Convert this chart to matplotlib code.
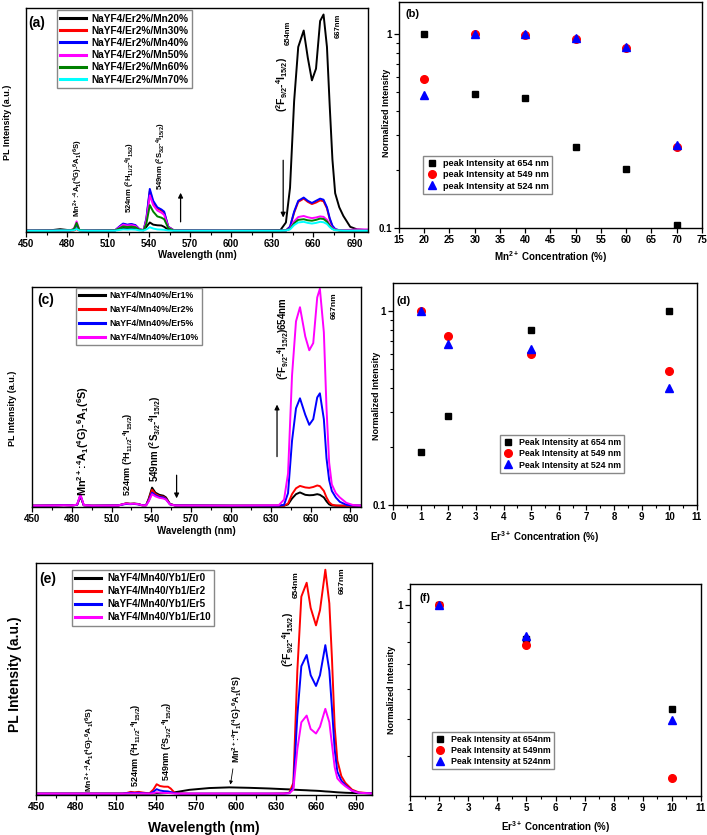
import numpy as np
import matplotlib
matplotlib.use("Agg")
import matplotlib.pyplot as plt
from matplotlib.ticker import FixedLocator, FuncFormatter, NullFormatter, MultipleLocator, NullLocator

plt.rcParams['font.family'] = ['Liberation Sans', 'DejaVu Sans']
plt.rcParams['font.weight'] = 'bold'
plt.rcParams['mathtext.fontset'] = 'custom'
plt.rcParams['mathtext.rm'] = 'Liberation Sans:bold'
plt.rcParams['mathtext.it'] = 'Liberation Sans:bold'
plt.rcParams['mathtext.bf'] = 'Liberation Sans:bold'
plt.rcParams['mathtext.default'] = 'rm'

# ---------------- Panel (a) data ----------------
wl_a = [450, 468, 475, 482, 485, 487, 489, 495, 515, 518, 521, 524, 527, 530, 533, 536, 538, 540.5, 543, 546,
        549, 551, 554, 558, 600, 636, 640, 643, 646, 649, 653, 656, 659, 662, 665, 667.5, 670, 672, 674, 676,
        679, 682, 687, 692, 700]
a_mn20 = [0.003, 0.004, 0.009, 0.004, 0.005, 0.012, 0.004, 0.003, 0.004, 0.010, 0.014, 0.013, 0.014, 0.012, 0.005, 0.004,
          0.020, 0.040, 0.030, 0.027, 0.026, 0.020, 0.006, 0.003, 0.003, 0.005, 0.040, 0.200, 0.600, 0.850, 0.926, 0.800,
          0.696, 0.750, 0.970, 1.000, 0.850, 0.580, 0.330, 0.175, 0.110, 0.070, 0.020, 0.008, 0.004]
a_mn30 = [0.002, 0.002, 0.003, 0.002, 0.003, 0.010, 0.003, 0.002, 0.003, 0.018, 0.033, 0.028, 0.031, 0.026, 0.008, 0.005,
          0.055, 0.185, 0.130, 0.105, 0.095, 0.085, 0.020, 0.004, 0.002, 0.002, 0.003, 0.020, 0.085, 0.135, 0.150, 0.135,
          0.125, 0.132, 0.142, 0.138, 0.105, 0.055, 0.022, 0.008, 0.003, 0.002, 0.002, 0.002, 0.002]
a_mn40 = [0.002, 0.002, 0.003, 0.003, 0.008, 0.030, 0.005, 0.002, 0.003, 0.020, 0.035, 0.030, 0.033, 0.028, 0.008, 0.005,
          0.060, 0.195, 0.140, 0.110, 0.100, 0.090, 0.020, 0.004, 0.002, 0.002, 0.003, 0.020, 0.090, 0.140, 0.155, 0.140,
          0.130, 0.140, 0.150, 0.145, 0.110, 0.060, 0.025, 0.010, 0.004, 0.002, 0.002, 0.002, 0.002]
a_mn50 = [0.002, 0.002, 0.003, 0.003, 0.010, 0.045, 0.006, 0.002, 0.003, 0.017, 0.030, 0.026, 0.028, 0.024, 0.007, 0.005,
          0.050, 0.165, 0.120, 0.095, 0.085, 0.075, 0.018, 0.004, 0.002, 0.002, 0.003, 0.012, 0.045, 0.065, 0.070, 0.064,
          0.060, 0.063, 0.068, 0.066, 0.052, 0.030, 0.014, 0.007, 0.005, 0.005, 0.006, 0.008, 0.008]
a_mn60 = [0.002, 0.002, 0.003, 0.003, 0.009, 0.038, 0.005, 0.002, 0.003, 0.012, 0.022, 0.019, 0.021, 0.018, 0.006, 0.004,
          0.035, 0.120, 0.090, 0.068, 0.062, 0.055, 0.014, 0.003, 0.002, 0.002, 0.003, 0.010, 0.036, 0.052, 0.055, 0.050,
          0.048, 0.052, 0.058, 0.056, 0.044, 0.025, 0.011, 0.005, 0.003, 0.002, 0.002, 0.002, 0.002]
a_mn70 = [0.002, 0.002, 0.003, 0.003, 0.004, 0.010, 0.003, 0.002, 0.002, 0.005, 0.008, 0.007, 0.008, 0.007, 0.003, 0.003,
          0.008, 0.018, 0.012, 0.008, 0.007, 0.006, 0.003, 0.002, 0.002, 0.002, 0.003, 0.008, 0.028, 0.040, 0.043, 0.038,
          0.035, 0.038, 0.043, 0.041, 0.033, 0.019, 0.009, 0.004, 0.003, 0.002, 0.002, 0.002, 0.002]
labels_a = ['NaYF4/Er2%/Mn20%', 'NaYF4/Er2%/Mn30%', 'NaYF4/Er2%/Mn40%',
            'NaYF4/Er2%/Mn50%', 'NaYF4/Er2%/Mn60%', 'NaYF4/Er2%/Mn70%']
colors_a = ['black', 'red', 'blue', 'magenta', 'green', 'cyan']

# ---------------- Panel (b) data ----------------
b_conc = [20, 30, 40, 50, 60, 70]
b_654 = [1.0, 0.489, 0.47, 0.262, 0.201, 0.104]
b_549 = [0.588, 1.0, 0.99, 0.94, 0.85, 0.262]
b_524 = [0.485, 1.0, 1.0, 0.95, 0.86, 0.267]
labels_b = ['peak Intensity at 654 nm', 'peak Intensity at 549 nm', 'peak Intensity at 524 nm']

# ---------------- Panel (c) data ----------------
wl_c = [450, 468, 474, 480, 484, 486.5, 489, 495, 515, 518, 521, 524, 527, 530, 533, 536, 538, 540.5, 543, 546,
        549, 551, 554, 558, 600, 636, 640, 643, 646, 649, 652, 656, 659, 662, 665, 667, 670, 672, 674, 676,
        679, 682, 687, 692, 698]
c_er1 = [0.002, 0.003, 0.005, 0.003, 0.006, 0.045, 0.004, 0.002, 0.003, 0.008, 0.013, 0.011, 0.012, 0.010, 0.004, 0.004,
         0.035, 0.085, 0.062, 0.052, 0.048, 0.040, 0.010, 0.003, 0.002, 0.002, 0.002, 0.008, 0.035, 0.055, 0.063, 0.052,
         0.050, 0.051, 0.055, 0.052, 0.040, 0.022, 0.008, 0.003, 0.002, 0.002, 0.002, 0.002, 0.002]
c_er2 = [0.002, 0.003, 0.004, 0.003, 0.006, 0.048, 0.004, 0.002, 0.003, 0.008, 0.012, 0.010, 0.011, 0.009, 0.004, 0.004,
         0.030, 0.075, 0.056, 0.046, 0.043, 0.035, 0.009, 0.003, 0.002, 0.002, 0.002, 0.012, 0.055, 0.082, 0.093, 0.086,
         0.084, 0.088, 0.095, 0.092, 0.070, 0.040, 0.018, 0.007, 0.003, 0.002, 0.002, 0.002, 0.002]
c_er5 = [0.002, 0.003, 0.004, 0.003, 0.006, 0.050, 0.004, 0.002, 0.003, 0.007, 0.010, 0.009, 0.010, 0.008, 0.004, 0.004,
         0.025, 0.062, 0.050, 0.042, 0.040, 0.032, 0.008, 0.003, 0.002, 0.002, 0.006, 0.060, 0.300, 0.450, 0.496, 0.420,
         0.374, 0.400, 0.500, 0.519, 0.400, 0.220, 0.120, 0.070, 0.040, 0.020, 0.006, 0.003, 0.002]
c_er10 = [0.002, 0.003, 0.004, 0.003, 0.007, 0.055, 0.005, 0.002, 0.003, 0.008, 0.012, 0.010, 0.011, 0.009, 0.004, 0.004,
          0.022, 0.055, 0.045, 0.038, 0.035, 0.030, 0.008, 0.003, 0.002, 0.004, 0.030, 0.150, 0.600, 0.850, 0.915, 0.780,
          0.717, 0.750, 0.960, 1.000, 0.800, 0.450, 0.200, 0.100, 0.060, 0.040, 0.015, 0.005, 0.002]
labels_c = ['NaYF4/Mn40%/Er1%', 'NaYF4/Mn40%/Er2%', 'NaYF4/Mn40%/Er5%', 'NaYF4/Mn40%/Er10%']
colors_c = ['black', 'red', 'blue', 'magenta']

# ---------------- Panel (d) data ----------------
d_conc = [1, 2, 5, 10]
d_654 = [0.187, 0.288, 0.80, 1.0]
d_549 = [1.0, 0.743, 0.60, 0.487]
d_524 = [1.0, 0.673, 0.635, 0.40]
labels_d = ['Peak Intensity at 654 nm', 'Peak Intensity at 549 nm', 'Peak Intensity at 524 nm']

# ---------------- Panel (e) data ----------------
wl_e = [450, 500, 515, 518, 521, 524, 527, 530, 535, 538, 540.5, 543, 546, 549, 551, 554, 558, 565, 580, 595,
        610, 625, 636, 640, 643, 646, 649, 653, 656, 660, 663, 667, 670, 672, 674, 676, 679, 682, 687, 692, 702]
e_er0 = [0.002, 0.002, 0.002, 0.002, 0.002, 0.002, 0.002, 0.002, 0.002, 0.002, 0.003, 0.003, 0.004, 0.005, 0.006, 0.008,
         0.012, 0.019, 0.027, 0.030, 0.028, 0.025, 0.022, 0.021, 0.020, 0.019, 0.018, 0.017, 0.016, 0.015, 0.014, 0.012,
         0.011, 0.010, 0.009, 0.008, 0.007, 0.006, 0.005, 0.004, 0.003]
e_er2 = [0.002, 0.002, 0.002, 0.005, 0.010, 0.008, 0.010, 0.007, 0.003, 0.020, 0.044, 0.036, 0.033, 0.033, 0.025, 0.006,
         0.003, 0.002, 0.002, 0.002, 0.002, 0.002, 0.003, 0.006, 0.050, 0.550, 0.880, 0.942, 0.830, 0.752, 0.820, 1.000,
         0.850, 0.600, 0.300, 0.150, 0.080, 0.050, 0.020, 0.008, 0.003]
e_er5 = [0.002, 0.002, 0.002, 0.004, 0.006, 0.005, 0.006, 0.004, 0.002, 0.010, 0.022, 0.016, 0.013, 0.012, 0.009, 0.004,
         0.002, 0.002, 0.002, 0.002, 0.002, 0.002, 0.002, 0.004, 0.030, 0.350, 0.570, 0.620, 0.530, 0.482, 0.530, 0.664,
         0.550, 0.380, 0.200, 0.100, 0.060, 0.040, 0.015, 0.006, 0.003]
e_er10 = [0.002, 0.002, 0.002, 0.003, 0.003, 0.003, 0.003, 0.003, 0.002, 0.004, 0.008, 0.006, 0.005, 0.005, 0.004, 0.002,
          0.002, 0.002, 0.002, 0.002, 0.002, 0.002, 0.002, 0.004, 0.020, 0.200, 0.320, 0.350, 0.290, 0.270, 0.300, 0.380,
          0.320, 0.220, 0.120, 0.070, 0.050, 0.035, 0.015, 0.006, 0.003]
labels_e = ['NaYF4/Mn40/Yb1/Er0', 'NaYF4/Mn40/Yb1/Er2', 'NaYF4/Mn40/Yb1/Er5', 'NaYF4/Mn40/Yb1/Er10']
colors_e = ['black', 'red', 'blue', 'magenta']

# ---------------- Panel (f) data ----------------
f_conc = [2, 5, 10]
f_654 = [1.0, 0.816, 0.532]
f_549 = [1.0, 0.784, 0.35]
f_524 = [1.0, 0.828, 0.496]
labels_f = ['Peak Intensity at 654nm', 'Peak Intensity at 549nm', 'Peak Intensity at 524nm']

W, H = 707, 835
fig = plt.figure(figsize=(W / 100, H / 100), dpi=100)


def add_ax(l, r, t, b):
    return fig.add_axes([l / W, 1 - b / H, (r - l) / W, (b - t) / H])


def style(ax, tick_fs=7):
    for s in ax.spines.values():
        s.set_linewidth(1.0)
    ax.tick_params(axis='both', which='major', direction='out', length=3.5, width=0.9,
                   labelsize=tick_fs, pad=1.5, top=False, right=False)
    ax.tick_params(axis='both', which='minor', direction='out', length=2, width=0.8,
                   top=False, right=False)
    for lab in ax.get_xticklabels() + ax.get_yticklabels():
        lab.set_fontweight('bold')


def spectrum_axes(ax, xmax, tick_fs=7):
    ax.set_xlim(450, xmax)
    ax.xaxis.set_major_locator(MultipleLocator(30))
    ax.xaxis.set_minor_locator(MultipleLocator(15))
    ax.yaxis.set_major_locator(NullLocator())
    ax.yaxis.set_minor_locator(NullLocator())
    style(ax, tick_fs)


def rot(ax, x, y, s, fs):
    ax.text(x, y, s, rotation=90, ha='center', va='bottom', fontsize=fs, fontweight='bold')


def arrow(ax, x, y0, y1):
    ax.annotate('', xy=(x, y1), xytext=(x, y0),
                arrowprops=dict(arrowstyle='-|>', color='black', lw=0.9, mutation_scale=7))


def set_labels(ax, xl, xfs, xy, yl, yfs, yx, yy):
    ax.set_xlabel(xl, fontsize=xfs, fontweight='bold')
    ax.xaxis.set_label_coords(0.5, xy)
    ax.xaxis.label.set_va('center')
    ax.set_ylabel(yl, fontsize=yfs, fontweight='bold')
    ax.yaxis.set_label_coords(yx, yy)
    ax.yaxis.label.set_va('center')


def line_legend(ax, anchor, fs, spacing, hl):
    ax.legend(loc='upper left', bbox_to_anchor=anchor, borderaxespad=0,
              handlelength=hl, handletextpad=0.6, labelspacing=spacing, borderpad=0.35,
              fancybox=False, edgecolor='#888888', framealpha=1, prop={'weight': 'bold', 'size': fs})
    for l in ax.get_legend().get_lines():
        l.set_linewidth(2.2)


mn_a1 = r'Mn$^{2+}$:$^{4}$A$_{1}$($^{4}$G)-$^{6}$A$_{1}$($^{6}$S)'
t524 = r'524nm ($^{2}$H$_{11/2}$-$^{4}$I$_{15/2}$)'
t549 = r'549nm ($^{2}$S$_{3/2}$-$^{4}$I$_{15/2}$)'
tF = r'($^{2}$F$_{9/2}$-$^{4}$I$_{15/2}$)'

# ======== (a) ========
ax = add_ax(26, 368, 8, 232)
for ys, c, lab in zip([a_mn20, a_mn30, a_mn40, a_mn50, a_mn60, a_mn70], colors_a, labels_a):
    ax.plot(wl_a, ys, color=c, lw=1.4, label=lab)
ax.set_ylim(-0.004, 1.03)
spectrum_axes(ax, 700)
set_labels(ax, 'Wavelength (nm)', 7, -0.102, 'PL Intensity (a.u.)', 6.5, -0.055, 0.49)
line_legend(ax, (0.09, 0.991), 7.3, 0.22, 2.5)
ax.text(0.006, 0.935, '(a)', transform=ax.transAxes, fontsize=10, fontweight='bold', va='center', ha='left')
rot(ax, 488, 0.065, mn_a1, 5.5)
rot(ax, 526, 0.083, t524, 5.5)
rot(ax, 549, 0.19, t549, 5.5)
rot(ax, 637.5, 0.55, tF, 7.5)
rot(ax, 641.5, 0.86, '654nm', 5.5)
rot(ax, 678, 0.89, '667nm', 5.5)
arrow(ax, 638, 0.34, 0.05)
arrow(ax, 563, 0.03, 0.19)


def log_axes(ax, xlim, ylim, xmajor, xminor=None, tick_fs=7, yvals=None):
    ax.set_yscale('log')
    ax.set_xlim(*xlim)
    ax.set_ylim(*ylim)
    ax.xaxis.set_major_locator(MultipleLocator(xmajor))
    if xminor:
        ax.xaxis.set_minor_locator(MultipleLocator(xminor))
    else:
        ax.xaxis.set_minor_locator(NullLocator())
    if yvals is None:
        ax.yaxis.set_major_locator(FixedLocator([0.1, 1]))
        ax.yaxis.set_minor_locator(FixedLocator([0.2, 0.3, 0.4, 0.5, 0.6, 0.7, 0.8, 0.9]))
    else:
        ax.yaxis.set_major_locator(FixedLocator(yvals[0]))
        ax.yaxis.set_minor_locator(FixedLocator(yvals[1]))
    ax.yaxis.set_major_formatter(FuncFormatter(lambda v, p: ('%g' % v)))
    ax.yaxis.set_minor_formatter(NullFormatter())
    style(ax, tick_fs)


def scatter3(ax, x, s1, s2, s3, labels, anchor, fs):
    ax.plot(x, s1, 's', color='black', ms=5, ls='none', label=labels[0])
    ax.plot(x, s2, 'o', color='red', ms=5.5, ls='none', label=labels[1])
    ax.plot(x, s3, '^', color='blue', ms=6, ls='none', label=labels[2])
    ax.legend(loc='upper left', bbox_to_anchor=anchor, borderaxespad=0,
              handletextpad=0.6, labelspacing=0.25, borderpad=0.35, handlelength=1.2,
              fancybox=False, edgecolor='#888888', framealpha=1, prop={'weight': 'bold', 'size': fs})


# ======== (b) ========
ax = add_ax(399, 702, 2, 228)
scatter3(ax, b_conc, b_654, b_549, b_524, labels_b, (0.079, 0.319), 6.6)
log_axes(ax, (15, 75), (0.1, 1.46), 5)
set_labels(ax, r'Mn$^{2+}$ Concentration (%)', 7, -0.128, 'Normalized Intensity', 6.5, -0.04, 0.51)
ax.text(0.02, 0.947, '(b)', transform=ax.transAxes, fontsize=8, fontweight='bold', va='center', ha='left')

# ======== (c) ========
ax = add_ax(32, 361, 287, 507)
for ys, c, lab in zip([c_er1, c_er2, c_er5, c_er10], colors_c, labels_c):
    ax.plot(wl_c, ys, color=c, lw=1.4, label=lab)
ax.set_ylim(-0.004, 1.008)
spectrum_axes(ax, 698)
set_labels(ax, 'Wavelength (nm)', 7, -0.11, 'PL Intensity (a.u.)', 6.5, -0.058, 0.45)
line_legend(ax, (0.134, 0.995), 6.3, 0.55, 2.9)
ax.text(0.015, 0.94, '(c)', transform=ax.transAxes, fontsize=10, fontweight='bold', va='center', ha='left')
rot(ax, 488.7, 0.046, mn_a1, 7.8)
rot(ax, 522.8, 0.046, t524, 6.5)
rot(ax, 543, 0.11, t549, 7)
rot(ax, 639, 0.58, tF + '654nm', 7)
rot(ax, 678, 0.86, '667nm', 6)
arrow(ax, 634.7, 0.215, 0.48)
arrow(ax, 559, 0.155, 0.023)

# ======== (d) ========
ax = add_ax(393, 697, 283, 505)
scatter3(ax, d_conc, d_654, d_549, d_524, labels_d, (0.352, 0.315), 6.3)
log_axes(ax, (0, 11), (0.1, 1.39), 1, 0.5)
set_labels(ax, r'Er$^{3+}$ Concentration (%)', 7, -0.145, 'Normalized Intensity', 6.5, -0.053, 0.49)
ax.text(0.01, 0.92, '(d)', transform=ax.transAxes, fontsize=8, fontweight='bold', va='center', ha='left')

# ======== (e) ========
ax = add_ax(36, 372, 563, 795)
for ys, c, lab in zip([e_er0, e_er2, e_er5, e_er10], colors_e, labels_e):
    ax.plot(wl_e, ys, color=c, lw=1.4, label=lab)
ax.set_ylim(-0.004, 1.03)
spectrum_axes(ax, 702, tick_fs=7.5)
set_labels(ax, 'Wavelength (nm)', 10, -0.142, 'PL Intensity (a.u.)', 10, -0.0625, 0.52)
line_legend(ax, (0.107, 0.97), 7.1, 0.3, 2.6)
ax.text(0.01, 0.93, '(e)', transform=ax.transAxes, fontsize=10, fontweight='bold', va='center', ha='left')
rot(ax, 490.5, 0.01, mn_a1, 6)
rot(ax, 525, 0.03, t524, 6.5)
rot(ax, 548, 0.058, t549, 6.5)
rot(ax, 601, 0.14, r'Mn$^{2+}$:$^{4}$T$_{1}$($^{4}$G)-$^{6}$A$_{1}$($^{6}$S)', 6.3)
ax.annotate('', xy=(595.5, 0.03), xytext=(598, 0.125),
            arrowprops=dict(arrowstyle='-|>', color='black', lw=0.6, mutation_scale=5))
rot(ax, 639, 0.566, tF, 7.5)
rot(ax, 645.5, 0.876, '654nm', 6)
rot(ax, 680, 0.894, '667nm', 6)

# ======== (f) ========
ax = add_ax(410, 701, 584, 796)
scatter3(ax, f_conc, f_654, f_549, f_524, labels_f, (0.076, 0.302), 6.3)
log_axes(ax, (1, 11), (0.313, 1.137), 1, 0.5,
         yvals=([1], [0.4, 0.5, 0.6, 0.7, 0.8, 0.9, 1.1]))
set_labels(ax, r'Er$^{3+}$ Concentration (%)', 7, -0.146, 'Normalized Intensity', 6.5, -0.062, 0.5)
ax.text(0.034, 0.934, '(f)', transform=ax.transAxes, fontsize=8, fontweight='bold', va='center', ha='left')

fig.savefig('out.png', dpi=100)
